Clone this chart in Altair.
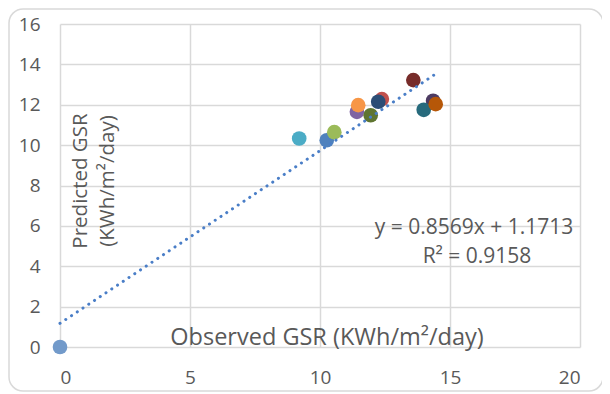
import altair as alt
import pandas as pd

# Observed vs predicted GSR
observed = [10.26, 12.38, 10.55, 11.42, 9.20, 11.47, 12.24, 13.59, 11.95, 14.35, 13.99, 14.45, 0.0]
predicted = [10.24, 12.28, 10.64, 11.65, 10.33, 11.98, 12.15, 13.22, 11.48, 12.20, 11.75, 12.03, 0.0]
series = ["s1", "s2", "s3", "s4", "s5", "s6", "s7", "s8", "s9", "s10", "s11", "s12", "s13"]
colors = ["#4F81BD", "#C0504D", "#9BBB59", "#8064A2", "#4BACC6", "#F79646",
          "#2C4D75", "#772C2A", "#5F7530", "#4D3B62", "#276A7C", "#B65708", "#729ACA"]
order = list(range(len(series)))

x_ticks = [0, 5, 10, 15, 20]
y_ticks = [0, 2, 4, 6, 8, 10, 12, 14, 16]

equation_text = "y = 0.8569x + 1.1713"
r2_text = "R² = 0.9158"
x_title = "Observed GSR (KWh/m²/day)"
y_title = ["Predicted GSR", "(KWh/m²/day)"]

df = pd.DataFrame({"obs": observed, "pred": predicted, "series": series, "order": order})

FONT = "Open Sans"
GREY = "#595959"

x_scale = alt.Scale(domain=[0, 20], nice=False)
y_scale = alt.Scale(domain=[0, 16], nice=False)

base = alt.Chart(df)

points = base.mark_circle(size=215, opacity=1).encode(
    x=alt.X("obs:Q", scale=x_scale,
            axis=alt.Axis(values=x_ticks, title=None, labelPadding=21)),
    y=alt.Y("pred:Q", scale=y_scale,
            axis=alt.Axis(values=y_ticks, title=None, labelPadding=20)),
    color=alt.Color("series:N", scale=alt.Scale(domain=series, range=colors), legend=None),
    order=alt.Order("order:Q"),
)

trend = base.transform_regression("obs", "pred").mark_line(
    color="#4A7EC7", strokeWidth=3, strokeDash=[0.1, 6.8], strokeCap="round"
).encode(
    x=alt.X("obs:Q", scale=x_scale),
    y=alt.Y("pred:Q", scale=y_scale),
)

txt = dict(font=FONT, color=GREY)

eq = alt.Chart().mark_text(fontSize=21, align="center", baseline="alphabetic", **txt).encode(
    x=alt.value(414), y=alt.value(210), text=alt.value(equation_text))
r2 = alt.Chart().mark_text(fontSize=21, align="center", baseline="alphabetic", **txt).encode(
    x=alt.value(417), y=alt.value(239), text=alt.value(r2_text))
xt = alt.Chart().mark_text(fontSize=23.5, align="center", baseline="alphabetic", **txt).encode(
    x=alt.value(267), y=alt.value(321), text=alt.value(x_title))
yt = alt.Chart().mark_text(fontSize=20.5, align="center", baseline="middle", angle=270,
                           lineHeight=27, **txt).encode(
    x=alt.value(21), y=alt.value(157), text=alt.value(y_title))

border = alt.Chart().mark_rect(fill=None, stroke="#d9d9d9", strokeWidth=1.5, cornerRadius=14).encode(
    x=alt.value(-51), x2=alt.value(543), y=alt.value(-15), y2=alt.value(367))

chart = alt.layer(border, points, trend, eq, r2, xt, yt).properties(
    width=520, height=323,
    autosize=alt.AutoSizeParams(type="none"),
    padding={"left": 52, "top": 16, "right": 22, "bottom": 47},
    background="white",
).configure_view(strokeWidth=0).configure_axis(
    grid=True, gridColor="#d9d9d9", gridWidth=1.5, domain=False, ticks=False,
    labelFont=FONT, labelFontSize=19, labelColor=GREY,
)

chart.save("out.html", embed_options={"renderer": "svg", "actions": False})
